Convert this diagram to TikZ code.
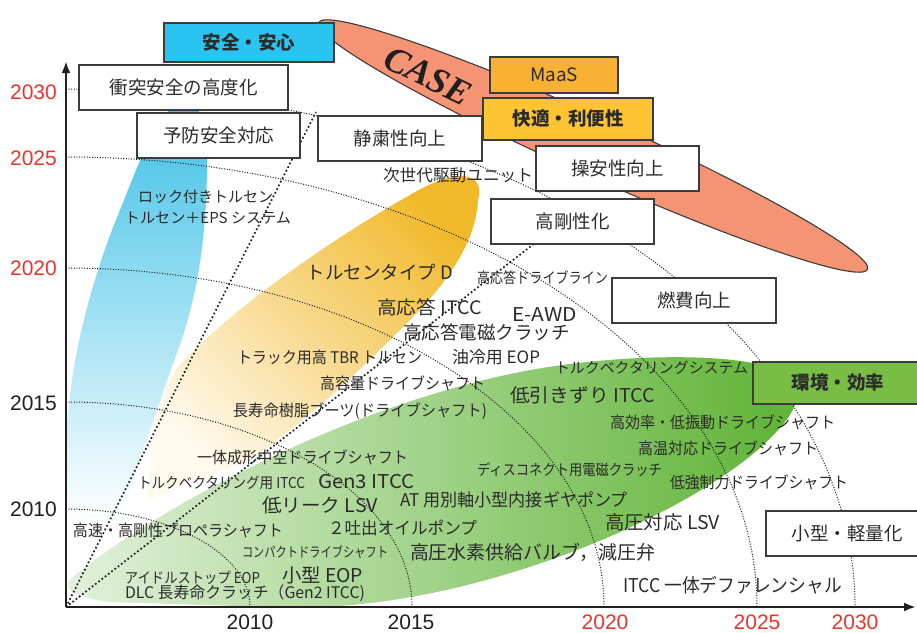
\documentclass[tikz,border=0pt]{standalone}
\usepackage{fontspec}
\usepackage{graphicx}
\setmainfont{Noto Sans CJK JP}
\newfontfamily\yrfont{Liberation Sans}
\newfontfamily\casefont{Liberation Serif}
\usetikzlibrary{arrows.meta}
\definecolor{txt}{HTML}{2B2B2B}
\definecolor{axisc}{HTML}{231F20}
\definecolor{boxline}{HTML}{3C3C3C}
\definecolor{dotc}{HTML}{1E1E1E}
\definecolor{yrred}{HTML}{E8362D}
\definecolor{bluebox}{HTML}{29C4F0}
\definecolor{maasbox}{HTML}{F8B133}
\definecolor{kaibox}{HTML}{FEC433}
\definecolor{greenbox}{HTML}{78BE45}
\definecolor{salmon}{HTML}{F59474}
\definecolor{blueT}{HTML}{3DC0E6}
\definecolor{blueM}{HTML}{93D7EB}
\definecolor{goldT}{HTML}{F1B92A}
\definecolor{goldM}{HTML}{F5D47E}
\definecolor{goldB}{HTML}{FFF9EE}
\definecolor{greenL}{HTML}{E3F1DD}
\definecolor{greenM}{HTML}{98CD84}
\definecolor{greenR}{HTML}{5DB332}
\newcommand{\fitw}[2]{\resizebox{#1pt}{\height}{#2}}
\tikzset{
  lab/.style={inner sep=0pt, text=txt, font=\fontsize{#1}{#1}\selectfont},
  boxw/.style={draw=boxline, line width=1.1pt, fill=white, inner sep=0pt, text=txt,
    font=\fontsize{18.5}{18.5}\selectfont},
  yr/.style={inner sep=0pt, font=\yrfont\fontsize{21}{21}\selectfont},
  fine/.style={line width=1pt, dash pattern=on 1pt off 1.6pt, draw=dotc},
  coarse/.style={line width=1.7pt, dash pattern=on 1.7pt off 2.4pt, draw=dotc},
  axisline/.style={line width=2.4pt, draw=axisc, -{Latex[length=12pt,width=9pt]}},
}
\begin{document}
\begin{tikzpicture}[x=1pt,y=-1pt]
\useasboundingbox (0,0) rectangle (917,632);
\fill[white] (0,0) rectangle (917,632);

% coordinates
\coordinate (O) at (66,607);
\coordinate (ytop) at (66,61);
\coordinate (xend) at (916,607);
\coordinate (la) at (316,112);
\coordinate (lb) at (535,243);

% blue band
\shade[top color=blueT, middle color=blueM, bottom color=white]
 (186,100) .. controls (205,105) and (208,140) .. (207,170)
 .. controls (206,230) and (200,290) .. (178,350)
 .. controls (160,400) and (140,460) .. (120,520)
 -- (67,520) -- (67,440)
 .. controls (68,360) and (95,270) .. (120,210)
 .. controls (140,160) and (160,105) .. (186,100) -- cycle;

% yellow leaf
\shade[top color=goldT, middle color=goldM, bottom color=goldB, shading angle=-45]
 (478,200) .. controls (486,170) and (455,168) .. (410,195)
 .. controls (330,240) and (230,310) .. (180,365)
 .. controls (160,390) and (150,440) .. (148,500)
 -- (250,460)
 .. controls (320,410) and (370,360) .. (410,320)
 .. controls (450,280) and (476,240) .. (478,200) -- cycle;

% green ellipse-like
\shade[left color=greenL, middle color=greenM, right color=greenR]
 (72,578) .. controls (140,520) and (330,410) .. (520,372)
 .. controls (620,352) and (770,350) .. (792,380)
 .. controls (805,400) and (790,420) .. (760,448)
 .. controls (700,500) and (600,545) .. (520,570)
 .. controls (450,592) and (380,606) .. (300,608)
 -- (110,602) .. controls (75,598) and (60,588) .. (72,578) -- cycle;

% CASE ellipse
\filldraw[fill=salmon, draw=boxline, line width=1.1pt, rotate around={-24.2:(593,146)}]
 (593,146) ellipse [x radius=301pt, y radius=29pt];

% dotted year arcs
\draw[fine] (66,509) arc[start angle=90, end angle=0, x radius=184pt, y radius=98pt];
\draw[fine] (66,402) arc[start angle=90, end angle=0, x radius=346pt, y radius=205pt];
\draw[fine] (66,268) arc[start angle=90, end angle=0, x radius=538pt, y radius=339pt];
\draw[fine] (66,157) arc[start angle=90, end angle=0, x radius=691pt, y radius=450pt];
\draw[fine] (66,89) arc[start angle=90, end angle=0, x radius=789pt, y radius=518pt];

% dotted rays
\draw[coarse] (O) -- (la);
\draw[coarse] (O) -- (lb);

% axes
\draw[axisline] (O) -- (ytop);
\draw[axisline] (O) -- (xend);

% boxes
\node[boxw, fill=bluebox, minimum width=170pt, minimum height=39pt, font=\bfseries\fontsize{18.5}{18.5}\selectfont] (anshin) at (249,42.5) {安全・安心};
\node[boxw, minimum width=209pt, minimum height=45pt] (shototsu) at (183.5,87.5) {衝突安全の高度化};
\node[boxw, minimum width=163pt, minimum height=45pt] (yobou) at (218.5,135.5) {予防安全対応};
\node[boxw, minimum width=164pt, minimum height=45pt] (seishuku) at (400,138.5) {静粛性向上};
\node[boxw, fill=maasbox, minimum width=128pt, minimum height=36pt] (maas) at (554,75) {\fitw{48}{MaaS}};
\node[boxw, fill=kaibox, minimum width=170pt, minimum height=42pt, font=\bfseries\fontsize{18.5}{18.5}\selectfont] (kaiteki) at (568,119) {快適・利便性};
\node[boxw, minimum width=163pt, minimum height=45pt] (souan) at (617.5,168.5) {操安性向上};
\node[boxw, minimum width=163pt, minimum height=45pt] (gousei) at (572.5,221.5) {高剛性化};
\node[boxw, minimum width=164pt, minimum height=45pt] (nenpi) at (694,300.5) {燃費向上};
\node[boxw, fill=greenbox, minimum width=170pt, minimum height=42pt, font=\bfseries\fontsize{18.5}{18.5}\selectfont] (kankyo) at (838,383) {環境・効率};
\node[boxw, minimum width=162pt, minimum height=45pt] (kogata) at (847,533.5) {小型・軽量化};

% CASE text
\node[inner sep=0pt, text=axisc, rotate=-26, font=\casefont\bfseries\itshape\fontsize{36}{36}\selectfont] (case) at (428,76) {CASE};

% year labels
\node[yr, text=yrred, anchor=east] (y30) at (57,92) {2030};
\node[yr, text=yrred, anchor=east] (y25) at (57,158) {2025};
\node[yr, text=yrred, anchor=east] (y20) at (57,268) {2020};
\node[yr, text=axisc, anchor=east] (y15) at (57,403) {2015};
\node[yr, text=axisc, anchor=east] (y10) at (57,509) {2010};
\node[yr, text=axisc] (x10) at (250,622) {2010};
\node[yr, text=axisc] (x15) at (411,622) {2015};
\node[yr, text=yrred] (x20) at (605,622) {2020};
\node[yr, text=yrred] (x25) at (757,622) {2025};
\node[yr, text=yrred] (x30) at (855,622) {2030};

% labels
\node[lab=15] (t1) at (205.5,197) {\fitw{135}{ロック付きトルセン}};
\node[lab=15] (t2) at (208,218) {\fitw{166}{トルセン＋EPS システム}};
\node[lab=16.5] (t3) at (458,175) {\fitw{150}{次世代駆動ユニット}};
\node[lab=18.5] (t4) at (380,272) {\fitw{146}{トルセンタイプ D}};
\node[lab=15] (t5) at (542.5,278) {\fitw{131}{高応答ドライブライン}};
\node[lab=18.5] (t6) at (429.5,307) {\fitw{105}{高応答 ITCC}};
\node[lab=19] (t7) at (544.5,315) {\fitw{65}{E-AWD}};
\node[lab=18.5] (t8) at (486.5,332) {\fitw{167}{高応答電磁クラッチ}};
\node[lab=16] (t9) at (329.5,357) {\fitw{185}{トラック用高 TBR トルセン}};
\node[lab=17] (t10) at (496,357) {\fitw{88}{油冷用 EOP}};
\node[lab=15] (t11) at (651.5,368) {\fitw{193}{トルクベクタリングシステム}};
\node[lab=16] (t12) at (402.5,383) {\fitw{165}{高容量ドライブシャフト}};
\node[lab=19] (t13) at (582.5,395) {\fitw{145}{低引きずり ITCC}};
\node[lab=16] (t14) at (360,411) {\fitw{254}{長寿命樹脂ブーツ(ドライブシャフト)}};
\node[lab=16] (t15) at (722.5,422) {\fitw{225}{高効率・低振動ドライブシャフト}};
\node[lab=16] (t16) at (728,448) {\fitw{180}{高温対応ドライブシャフト}};
\node[lab=16] (t17) at (302.5,457) {\fitw{211}{一体成形中空ドライブシャフト}};
\node[lab=15] (t18) at (569.5,470) {\fitw{185}{ディスコネクト用電磁クラッチ}};
\node[lab=15] (t19) at (221.5,483) {\fitw{167}{トルクベクタリング用 ITCC}};
\node[lab=19] (t20) at (366.5,482) {\fitw{97}{Gen3 ITCC}};
\node[lab=16] (t21) at (759,482) {\fitw{178}{低強制力ドライブシャフト}};
\node[lab=17.5] (t22) at (514,500) {\fitw{228}{AT 用別軸小型内接ギヤポンプ}};
\node[lab=19] (t23) at (320,505) {\fitw{116}{低リーク LSV}};
\node[lab=19] (t24) at (662.5,522) {\fitw{115}{高圧対応 LSV}};
\node[lab=16] (t25) at (178,530) {\fitw{210}{高速・高剛性プロペラシャフト}};
\node[lab=17] (t26) at (402.5,528) {\fitw{149}{２吐出オイルポンプ}};
\node[lab=14] (t27) at (315,552) {\fitw{146}{コンパクトドライブシャフト}};
\node[lab=19] (t28) at (532.5,552) {\fitw{245}{高圧水素供給バルブ，減圧弁}};
\node[lab=15] (t29) at (192.5,578) {\fitw{135}{アイドルストップ EOP}};
\node[lab=19] (t30) at (322.5,575) {\fitw{81}{小型 EOP}};
\node[lab=16] (t31) at (245,593) {\fitw{240}{DLC 長寿命クラッチ（Gen2 ITCC)}};
\node[lab=19] (t32) at (732.5,585) {\fitw{219}{ITCC 一体デファレンシャル}};
\end{tikzpicture}
\end{document}
